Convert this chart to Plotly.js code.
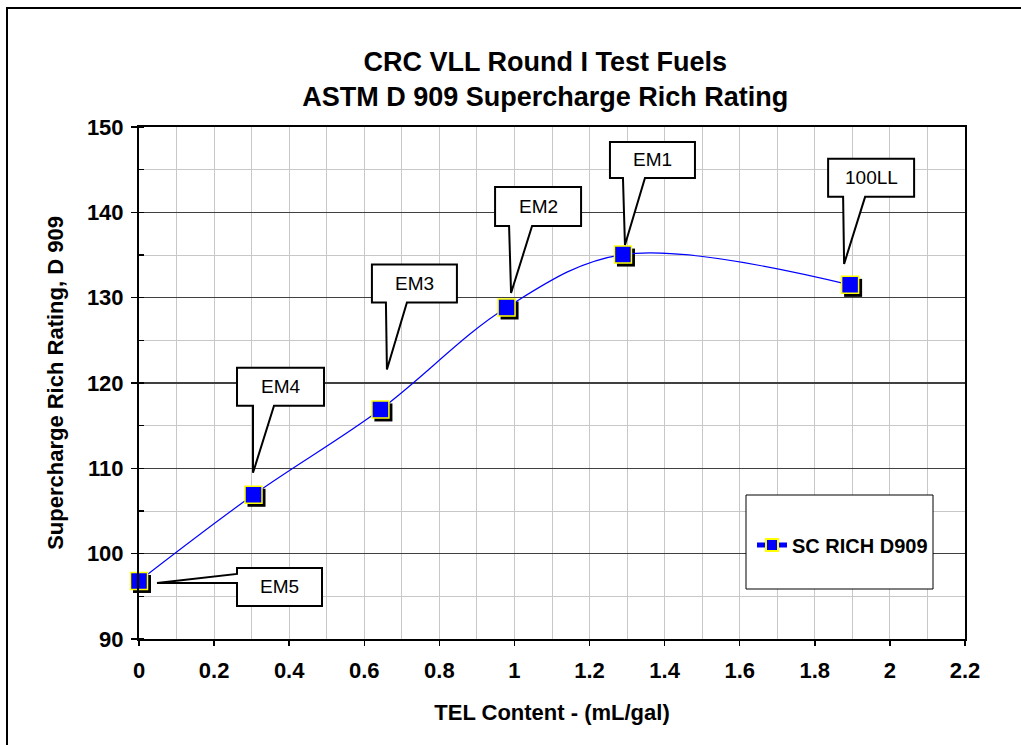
<!DOCTYPE html>
<html><head><meta charset="utf-8">
<script src="https://cdn.plot.ly/plotly-3.0.1.min.js"></script>
<style>html,body{margin:0;padding:0;background:#fff;overflow:hidden}#chart{width:1021px;height:745px}</style>
</head><body><div id="chart"></div>
<script>
// ---- data ----
const fuelNames = ['EM5', 'EM4', 'EM3', 'EM2', 'EM1', '100LL'];
const telContent = [0, 0.305, 0.643, 0.979, 1.289, 1.894];
const scRichRating = [96.8, 106.9, 116.9, 128.85, 135.05, 131.5];
const seriesName = 'SC RICH D909';
const xTickVals = [0, 0.2, 0.4, 0.6, 0.8, 1, 1.2, 1.4, 1.6, 1.8, 2, 2.2];
const xTickText = ['0', '0.2', '0.4', '0.6', '0.8', '1', '1.2', '1.4', '1.6', '1.8', '2', '2.2'];
const yTickVals = [90, 100, 110, 120, 130, 140, 150];
const yTickText = ['90', '100', '110', '120', '130', '140', '150'];

// ---- layout config ----
const FONT = 'Arial, "Liberation Sans", sans-serif';
const W = 1021, H = 745;
const M = {l: 139, r: 56, t: 127, b: 106};
const xRange = [0, 2.2], yRange = [90, 150];
const pxPerX = (W - M.l - M.r) / (xRange[1] - xRange[0]);
const pxPerY = (H - M.t - M.b) / (yRange[1] - yRange[0]);
const shadowPx = 3;

// callout geometry in pixels relative to each point (y positive = up)
const callouts = [
  {side: 'left', L: 98, R: 183, T: 13, B: -25, bT: 7, bB: -2, tx: 18, ty: -2},
  {side: 'bottom', L: -16.5, R: 70.5, T: 127, B: 89, bL: -0.5, bR: 20.5, tx: -0.5, ty: 22},
  {side: 'bottom', L: -8.5, R: 76.5, T: 145, B: 107, bL: 5.5, bR: 26.5, tx: 6.5, ty: 40},
  {side: 'bottom', L: -11.5, R: 74.5, T: 120.5, B: 81.5, bL: 2.5, bR: 25.5, tx: 4.5, ty: 14.5},
  {side: 'bottom', L: -13, R: 72, T: 112.6, B: 76.6, bL: 0, bR: 22, tx: 2, ty: 9.6},
  {side: 'bottom', L: -22, R: 64, T: 126, B: 88, bL: -7, bR: 15, tx: -6, ty: 21}
];

const shapes = [];
const annotations = [];
callouts.forEach((c, i) => {
  let p;
  if (c.side === 'bottom') {
    p = `M${c.L},${c.T} L${c.R},${c.T} L${c.R},${c.B} L${c.bR},${c.B} L${c.tx},${c.ty} L${c.bL},${c.B} L${c.L},${c.B} Z`;
  } else {
    p = `M${c.L},${c.T} L${c.R},${c.T} L${c.R},${c.B} L${c.L},${c.B} L${c.L},${c.bB} L${c.tx},${c.ty} L${c.L},${c.bT} Z`;
  }
  shapes.push({
    type: 'path', xref: 'x', yref: 'y', xsizemode: 'pixel', ysizemode: 'pixel',
    xanchor: telContent[i], yanchor: scRichRating[i], path: p,
    line: {color: 'black', width: 2}, fillcolor: 'white', layer: 'above'
  });
  annotations.push({
    xref: 'x', yref: 'y', x: telContent[i], y: scRichRating[i],
    xshift: (c.L + c.R) / 2, yshift: (c.T + c.B) / 2,
    text: fuelNames[i], showarrow: false,
    font: {family: FONT, size: 19, color: 'black'}
  });
});

// legend box
shapes.push({
  type: 'rect', xref: 'paper', yref: 'paper',
  x0: (746 - M.l) / (W - M.l - M.r), x1: (933 - M.l) / (W - M.l - M.r),
  y0: (H - M.b - 589) / (H - M.t - M.b), y1: (H - M.b - 495) / (H - M.t - M.b),
  line: {color: 'black', width: 1}, fillcolor: 'white', layer: 'above'
});
// outer frame
shapes.push({
  type: 'rect', xref: 'paper', yref: 'paper',
  x0: (7 - M.l) / (W - M.l - M.r), x1: 1.5,
  y0: -0.6, y1: (H - M.b - 8) / (H - M.t - M.b),
  line: {color: 'black', width: 2}, fillcolor: 'rgba(0,0,0,0)', layer: 'above'
});

const traces = [
  {
    x: telContent, y: scRichRating, xaxis: 'x2', yaxis: 'y2', cliponaxis: false,
    type: 'scatter', mode: 'markers', showlegend: false, hoverinfo: 'skip',
    marker: {symbol: 'square', size: 18, color: 'black', line: {width: 0}}
  },
  {
    x: telContent, y: scRichRating, xaxis: 'x3', yaxis: 'y3', cliponaxis: false,
    type: 'scatter', mode: 'lines+markers', name: seriesName,
    line: {color: '#0000ff', width: 1.2, shape: 'spline', smoothing: 1},
    marker: {symbol: 'square', size: 17, color: '#0000ff', line: {color: '#ffff00', width: 1.5}}
  },
  {x: [], y: [], xaxis: 'x', yaxis: 'y', showlegend: false, type: 'scatter'}
];

const hidden = {visible: false, showgrid: false, zeroline: false, fixedrange: true};
const layout = {
  width: W, height: H,
  margin: M,
  paper_bgcolor: 'white', plot_bgcolor: 'white',
  font: {family: FONT, color: 'black'},
  title: {
    text: 'CRC VLL Round I Test Fuels<br>ASTM D 909 Supercharge Rich Rating',
    font: {family: FONT, size: 27, weight: 'bold', color: 'black'},
    xref: 'container', yref: 'container', x: 0.534, xanchor: 'center',
    y: 1 - 71 / H, yanchor: 'middle'
  },
  xaxis: {
    range: xRange, tickmode: 'array', tickvals: xTickVals, ticktext: xTickText,
    ticks: 'outside', ticklen: 5, tickwidth: 1.5, tickcolor: 'black', ticklabelstandoff: 6,
    showline: true, linecolor: 'black', linewidth: 2, mirror: true,
    showgrid: true, gridcolor: '#c8c8c8', gridwidth: 1, zeroline: false,
    tickfont: {family: FONT, size: 22, weight: 'bold', color: 'black'},
    minor: {tickmode: 'linear', tick0: 0, dtick: 0.1, ticks: '', showgrid: true, gridcolor: '#c8c8c8', gridwidth: 1},
    title: {text: 'TEL Content - (mL/gal)', font: {family: FONT, size: 22, weight: 'bold', color: 'black'}, standoff: 22}
  },
  yaxis: {
    range: yRange, tickmode: 'array', tickvals: yTickVals, ticktext: yTickText,
    ticks: 'outside', ticklen: 6, tickwidth: 1.5, tickcolor: 'black', ticklabelstandoff: 3,
    showline: true, linecolor: 'black', linewidth: 2, mirror: true,
    showgrid: true, gridcolor: '#404040', gridwidth: 1.3, zeroline: false,
    tickfont: {family: FONT, size: 22, weight: 'bold', color: 'black'},
    minor: {tickmode: 'linear', tick0: 90, dtick: 5, ticks: 'inside', ticklen: 5, tickwidth: 1.5, tickcolor: 'black', showgrid: true, gridcolor: '#c8c8c8', gridwidth: 1},
    title: {text: 'Supercharge Rich Rating, D 909', font: {family: FONT, size: 22, weight: 'bold', color: 'black'}, standoff: 17}
  },
  xaxis2: Object.assign({overlaying: 'x', anchor: 'y2',
    range: [xRange[0] - shadowPx / pxPerX, xRange[1] - shadowPx / pxPerX]}, hidden),
  yaxis2: Object.assign({overlaying: 'y', anchor: 'x2',
    range: [yRange[0] + shadowPx / pxPerY, yRange[1] + shadowPx / pxPerY]}, hidden),
  xaxis3: Object.assign({overlaying: 'x', anchor: 'y3', range: xRange}, hidden),
  yaxis3: Object.assign({overlaying: 'y', anchor: 'x3', range: yRange}, hidden),
  showlegend: true,
  legend: {
    x: (752 - M.l) / (W - M.l - M.r), xanchor: 'left',
    y: (H - M.b - 545) / (H - M.t - M.b), yanchor: 'middle',
    bgcolor: 'rgba(0,0,0,0)', borderwidth: 0, itemsizing: 'constant',
    font: {family: FONT, size: 20, weight: 'bold', color: 'black'}
  },
  shapes: shapes,
  annotations: annotations
};

Plotly.newPlot('chart', traces, layout, {staticPlot: true, displayModeBar: false});
</script>
</body></html>
